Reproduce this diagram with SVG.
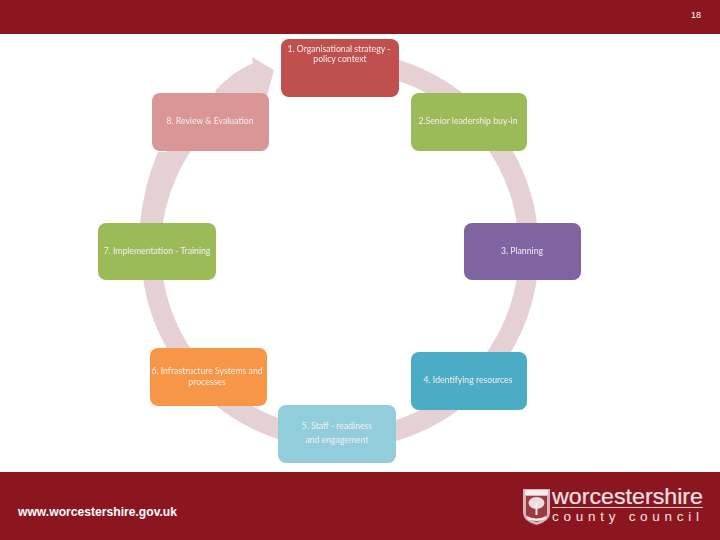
<svg xmlns="http://www.w3.org/2000/svg" width="720" height="540" viewBox="0 0 720 540">
<defs><filter id="soft" x="-5%" y="-20%" width="110%" height="140%"><feGaussianBlur stdDeviation="0.3"/></filter></defs>
<style>
.bar{fill:#8b1620}
.node{stroke:none}
.lbl{font-family:"Lato","Open Sans","Liberation Sans",sans-serif;font-size:8.700px;fill:#f6eeee;text-anchor:middle;filter:url(#soft)}
.ring{fill:none;stroke:#e5d0d3;stroke-width:20}
.ringfill{fill:#e5d0d3}
.logo{font-family:"Liberation Sans",Arial,sans-serif;fill:#f3e4e4}
</style>
<rect width="720" height="540" fill="#ffffff"/>
<rect class="bar" x="0" y="0" width="720" height="34"/>
<rect class="bar" x="0" y="472" width="720" height="68"/>
<text x="696" y="18" font-family="'Liberation Sans',Arial,sans-serif" font-size="9" fill="#ffffff" text-anchor="middle">18</text>
<g id="connectors">
<path class="ring" d="M340 61A189 189 0 1 1 200 123"/>
<path class="ringfill" d="M158 152Q144 185 140 223L160 223Q166 185 189 152Z"/>
<path class="ringfill" d="M215 91Q232 72 253 63L252 57L274 70L267 96L225 110Z"/>
</g>
<g id="node1"><rect class="node" x="281" y="39" width="118" height="58" rx="8" fill="#c0504d"/>
<text class="lbl" x="339" y="52">1. Organisational strategy -</text><text class="lbl" x="340" y="62">policy context</text></g>
<g id="node2"><rect class="node" x="411" y="93" width="116" height="58" rx="8" fill="#9bbb59"/>
<text class="lbl" x="468" y="124">2.Senior leadership buy-in</text></g>
<g id="node3"><rect class="node" x="464" y="223" width="117" height="57" rx="8" fill="#8064a2"/>
<text class="lbl" x="522" y="254">3. Planning</text></g>
<g id="node4"><rect class="node" x="411" y="352" width="116" height="58" rx="8" fill="#4bacc6"/>
<text class="lbl" x="468" y="383">4. Identifying resources</text></g>
<g id="node5"><rect class="node" x="278" y="405" width="118" height="58" rx="8" fill="#92cddc"/>
<text class="lbl" x="337" y="429">5. Staff  - readiness</text><text class="lbl" x="337" y="443">and  engagement</text></g>
<g id="node6"><rect class="node" x="150" y="348" width="117" height="58" rx="8" fill="#f79646"/>
<text class="lbl" x="207" y="374">6. Infrastructure Systems and</text><text class="lbl" x="207" y="385">processes</text></g>
<g id="node7"><rect class="node" x="98" y="223" width="118" height="57" rx="8" fill="#9bbb59"/>
<text class="lbl" x="157" y="254">7. Implementation - Training</text></g>
<g id="node8"><rect class="node" x="152" y="93" width="117" height="58" rx="8" fill="#d99694"/>
<text class="lbl" x="210" y="124">8. Review &amp; Evaluation</text></g>
<text x="18" y="516" font-family="'Liberation Sans',Arial,sans-serif" font-size="12" font-weight="bold" fill="#ffffff" textLength="159" lengthAdjust="spacingAndGlyphs">www.worcestershire.gov.uk</text>
<g id="logo">
<path d="M523 489h27v24q0 8-13.500 12q-13.500-4-13.500-12z" fill="#d9b3b5"/>
<path d="M526 496h21v18q0 5-10.500 8q-10.500-3-10.500-8z" fill="#9c3a42"/>
<path d="M525 490h23v5h-23zM527 516q9.500 5 19 0v3q-9.500 4-19 0z" fill="#f6ecec"/>
<ellipse cx="536.500" cy="503" rx="8" ry="6" fill="#eedede"/>
<rect x="535.500" y="503" width="2" height="12" fill="#f6ecec"/>
<text class="logo" x="552" y="504" font-size="21.500" stroke="#f3e4e4" stroke-width="0.200" textLength="151" lengthAdjust="spacingAndGlyphs">worcestershire</text>
<rect x="552" y="507" width="151" height="1" fill="#e9cfcf"/>
<text class="logo" x="552" y="521" font-size="13.500" textLength="147" lengthAdjust="spacing">county council</text>
</g>
</svg>
